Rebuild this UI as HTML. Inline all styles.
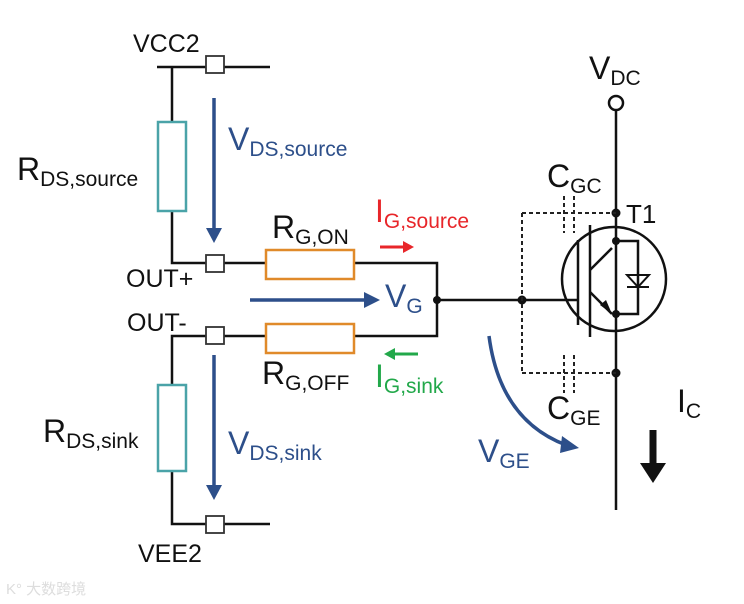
<!DOCTYPE html>
<html><head><style>body{margin:0;background:#fff}svg{display:block}text{font-family:"Liberation Sans",Arial,sans-serif}</style></head>
<body>
<svg width="744" height="604" viewBox="0 0 744 604" xmlns="http://www.w3.org/2000/svg">
<g stroke="#111" stroke-width="2.5" fill="none">
<path d="M157 67H270M172 67V122M172 211V263H265M354 263H437V336H354M265 336H172V385M172 471V524H270"/>
<path d="M437 300H578M578 240V325M590 225V337M616 103V510M616 241H638V314H616"/>
<path d="M590 270L612 248M590 292L612 314"/>
</g>
<circle cx="614" cy="279" r="52" fill="none" stroke="#111" stroke-width="2.5"/>
<circle cx="616" cy="103" r="7" fill="#fff" stroke="#111" stroke-width="2.5"/>
<path d="M612 314L600 305L606 300Z" fill="#111"/>
<path d="M627 287H649M627 275H649L638 287Z" fill="none" stroke="#111" stroke-width="2"/>
<g fill="#111"><circle cx="437" cy="300" r="4"/><circle cx="522" cy="300" r="4.5"/><circle cx="616" cy="213" r="4.5"/><circle cx="616" cy="241" r="4"/><circle cx="616" cy="314" r="4"/><circle cx="616" cy="373" r="4.5"/></g>
<g stroke="#222" stroke-width="2" stroke-dasharray="4 3" fill="none">
<path d="M522 213V373M522 213H616M522 373H616M564 196V233M574 196V233M564 355V393M574 355V393"/>
</g>
<g fill="#fff" stroke="#333" stroke-width="1.8">
<rect x="206" y="56" width="18" height="17"/><rect x="206" y="255" width="18" height="17"/><rect x="206" y="327" width="18" height="17"/><rect x="206" y="516" width="18" height="17"/>
</g>
<g fill="#fff" stroke="#4aa3a8" stroke-width="2.5"><rect x="158" y="122" width="28" height="89"/><rect x="158" y="385" width="28" height="86"/></g>
<g fill="#fff" stroke="#e08a2a" stroke-width="2.5"><rect x="266" y="250" width="88" height="29"/><rect x="266" y="324" width="88" height="29"/></g>
<g stroke="#2d4f8a" stroke-width="3.5" fill="#2d4f8a">
<path d="M214 98V230" fill="none"/><path d="M206 228H222L214 243Z" stroke="none"/>
<path d="M214 355V487" fill="none"/><path d="M206 485H222L214 500Z" stroke="none"/>
<path d="M250 300H366" fill="none"/><path d="M364 292V308L380 300Z" stroke="none"/>
<path d="M489 336Q500 420 566 445" fill="none"/><path d="M562 436L579 448L560 453Z" stroke="none"/>
</g>
<path d="M380 247H404" stroke="#e8262a" stroke-width="3"/><path d="M403 241V253L414 247Z" fill="#e8262a"/>
<path d="M394 354H418" stroke="#22a84a" stroke-width="3"/><path d="M395 348V360L384 354Z" fill="#22a84a"/>
<path d="M653 430V465" stroke="#111" stroke-width="7"/><path d="M640 463H666L653 483Z" fill="#111"/>
<g font-size="25" fill="#111">
<text x="133" y="52">VCC2</text>
<text x="126" y="287">OUT+</text>
<text x="127" y="331">OUT-</text>
<text x="138" y="562">VEE2</text>
<text x="17" y="180" font-size="32">R<tspan font-size="21" dy="6">DS,source</tspan></text>
<text x="43" y="442" font-size="32">R<tspan font-size="21" dy="6">DS,sink</tspan></text>
<text x="272" y="238" font-size="32">R<tspan font-size="21" dy="6">G,ON</tspan></text>
<text x="262" y="384" font-size="32">R<tspan font-size="21" dy="6">G,OFF</tspan></text>
<text x="589" y="79" font-size="32">V<tspan font-size="21" dy="6">DC</tspan></text>
<text x="547" y="187" font-size="32">C<tspan font-size="21" dy="6">GC</tspan></text>
<text x="547" y="419" font-size="32">C<tspan font-size="21" dy="6">GE</tspan></text>
<text x="626" y="223" font-size="26">T1</text>
<text x="677" y="412" font-size="32">I<tspan font-size="21" dy="6">C</tspan></text>
</g>
<g fill="#2d4f8a">
<text x="228" y="150" font-size="32">V<tspan font-size="21" dy="6">DS,source</tspan></text>
<text x="228" y="454" font-size="32">V<tspan font-size="21" dy="6">DS,sink</tspan></text>
<text x="385" y="307" font-size="32">V<tspan font-size="21" dy="6">G</tspan></text>
<text x="478" y="462" font-size="32">V<tspan font-size="21" dy="6">GE</tspan></text>
</g>
<text x="375" y="222" font-size="32" fill="#e8262a">I<tspan font-size="21" dy="6">G,source</tspan></text>
<text x="375" y="387" font-size="32" fill="#22a84a">I<tspan font-size="21" dy="6">G,sink</tspan></text>
<text x="6" y="594" font-size="15" fill="#ddd" font-family="Liberation Sans,'Noto Sans CJK SC',sans-serif">K° 大数跨境</text>
</svg>
</body></html>
